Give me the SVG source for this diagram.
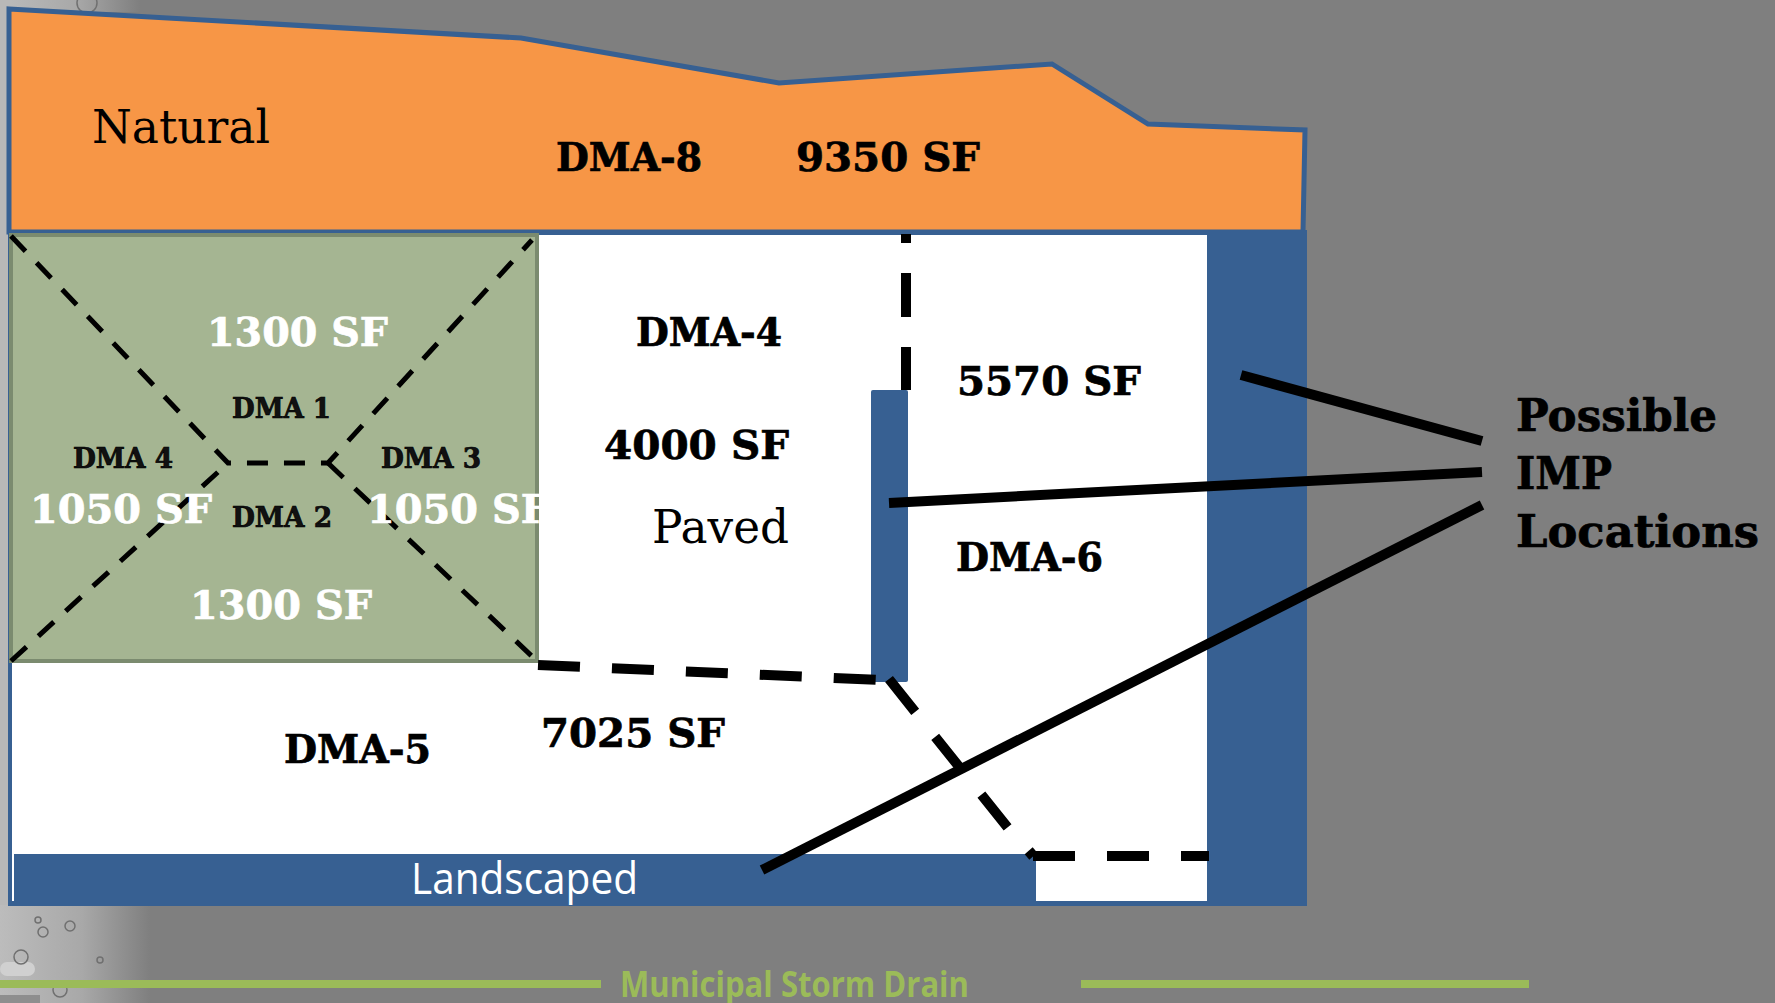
<svg xmlns="http://www.w3.org/2000/svg" width="1775" height="1003" viewBox="0 0 1775 1003">
<style>
.b{font-family:"DejaVu Serif","Liberation Serif",serif;font-weight:700;font-size:39px;fill:#000;stroke:#000;stroke-width:.7}
.w{fill:#fff;stroke:#fff}
.s{font-size:27px;fill:#111}
.big{font-size:44px}
.r{font-family:"DejaVu Serif","Liberation Serif",serif;font-weight:400;font-size:46px;fill:#000}
.d{fill:none;stroke:#000;stroke-width:5;stroke-dasharray:21 16}
.D{fill:none;stroke:#000;stroke-width:10;stroke-dasharray:42 32}
.l{fill:none;stroke:#000;stroke-width:10}
.blue{fill:#376092}
</style>
<defs>
<linearGradient id="fade" x1="0" x2="1" y1="0" y2="0"><stop offset="0" stop-color="#bcbcbc"/><stop offset="0.55" stop-color="#a8a8a8"/><stop offset="1" stop-color="#7f7f7f"/></linearGradient>
</defs>
<rect id="background" width="1775" height="1003" fill="#7f7f7f"/>
<g id="droplets">
<rect x="0" y="0" width="140" height="12" fill="url(#fade)"/>
<rect x="0" y="0" width="10" height="910" fill="#b8b8b8"/>
<rect x="0" y="905" width="150" height="98" fill="url(#fade)"/>
<rect x="0" y="962" width="35" height="14" rx="7" fill="#d0d0d0"/>
<rect x="0" y="995" width="40" height="8" fill="#8e8e8e"/>
<g fill="none" stroke="#707070" stroke-width="1.5">
<circle cx="87" cy="3" r="10"/><circle cx="21" cy="957" r="7"/><circle cx="43" cy="932" r="5"/><circle cx="70" cy="926" r="5"/><circle cx="38" cy="920" r="3"/><circle cx="100" cy="960" r="3"/><circle cx="60" cy="990" r="7"/>
</g>
</g>
<g id="dma-8"><polygon points="9,9 521,38 779,83 1052,64 1148,124 1305,130 1303,232 9,232" fill="#f79646" stroke="#376092" stroke-width="5"/>
<text class="r" x="92" y="143" textLength="178" lengthAdjust="spacingAndGlyphs">Natural</text>
<text class="b" x="556" y="171" textLength="146" lengthAdjust="spacingAndGlyphs">DMA-8</text>
<text class="b" x="796" y="171" textLength="184" lengthAdjust="spacingAndGlyphs">9350 SF</text></g>
<g id="site"><rect x="10" y="234" width="1197" height="668" fill="#fff"/>
<rect x="8" y="232" width="4" height="674" class="blue"/>
<rect class="blue" x="1207" y="232" width="100" height="674" rx="2"/>
<rect class="blue" x="10" y="901" width="1297" height="5"/>
<rect x="9" y="230" width="1298" height="5" class="blue"/></g>
<g id="landscaped"><rect class="blue" x="14" y="854" width="1022" height="52"/>
<text x="411" y="894" font-family="'Open Sans',sans-serif" font-size="43" fill="#fff" textLength="227" lengthAdjust="spacingAndGlyphs">Landscaped</text></g>
<g id="swale"><rect class="blue" x="871" y="390" width="37" height="292" rx="2"/></g>
<g id="dma-1-4"><rect x="11" y="235" width="526" height="426" fill="#a5b592" stroke="#7b8b6f" stroke-width="4"/>
<text class="b s" x="232" y="418" textLength="99" lengthAdjust="spacingAndGlyphs">DMA 1</text>
<text class="b s" x="73" y="468" textLength="100" lengthAdjust="spacingAndGlyphs">DMA 4</text>
<text class="b s" x="381" y="468" textLength="100" lengthAdjust="spacingAndGlyphs">DMA 3</text>
<text class="b s" x="232" y="527" textLength="100" lengthAdjust="spacingAndGlyphs">DMA 2</text>
</g>
<g id="connectors">
<path class="d" d="M11,236 L228,463 L328,463 L532,240"/>
<path class="d" d="M11,661 L228,463"/>
<path class="d" d="M328,463 L537,661"/>
<path class="D" style="stroke-dasharray:44 30;stroke-dashoffset:35" d="M906,234 L906,390"/>
<path class="D" d="M538,665 L880,680"/>
<path class="D" d="M889,679 L1024,848"/>
<path class="D" style="stroke-dasharray:none;stroke-width:7" d="M1027,857 L1035,850"/>
<path class="D" d="M1033,856 L1209,856"/>
<path class="l" d="M1241,375 L1482,441"/>
<path class="l" d="M889,503 L1482,472"/>
<path class="l" d="M762,870 L1482,505"/>
</g>
<g id="labels">
<text class="b w" x="207" y="346" textLength="181" lengthAdjust="spacingAndGlyphs">1300 SF</text>
<text class="b w" x="30" y="523" textLength="182" lengthAdjust="spacingAndGlyphs">1050 SF</text>
<text class="b w" x="367" y="523" textLength="182" lengthAdjust="spacingAndGlyphs">1050 SF</text>
<text class="b w" x="190" y="619" textLength="182" lengthAdjust="spacingAndGlyphs">1300 SF</text>
<text class="b" x="636" y="346" textLength="146" lengthAdjust="spacingAndGlyphs">DMA-4</text>
<text class="b" x="604" y="459" textLength="185" lengthAdjust="spacingAndGlyphs">4000 SF</text>
<text class="r" x="652" y="543" textLength="137" lengthAdjust="spacingAndGlyphs">Paved</text>
<text class="b" x="957" y="395" textLength="184" lengthAdjust="spacingAndGlyphs">5570 SF</text>
<text class="b" x="956" y="571" textLength="147" lengthAdjust="spacingAndGlyphs">DMA-6</text>
<text class="b" x="284" y="763" textLength="147" lengthAdjust="spacingAndGlyphs">DMA-5</text>
<text class="b" x="541" y="747" textLength="184" lengthAdjust="spacingAndGlyphs">7025 SF</text>
<text class="b big" x="1516" y="431" textLength="201" lengthAdjust="spacingAndGlyphs">Possible</text>
<text class="b big" x="1516" y="489" textLength="96" lengthAdjust="spacingAndGlyphs">IMP</text>
<text class="b big" x="1516" y="547" textLength="243" lengthAdjust="spacingAndGlyphs">Locations</text>
</g>
<g id="storm-drain">
<rect x="0" y="980" width="601" height="8" fill="#9bbb59"/>
<rect x="1081" y="980" width="448" height="8" fill="#9bbb59"/>
<text x="620" y="997" font-family="'Open Sans',sans-serif" font-weight="700" font-size="36" fill="#9bbb59" textLength="349" lengthAdjust="spacingAndGlyphs">Municipal Storm Drain</text>
</g>
</svg>
